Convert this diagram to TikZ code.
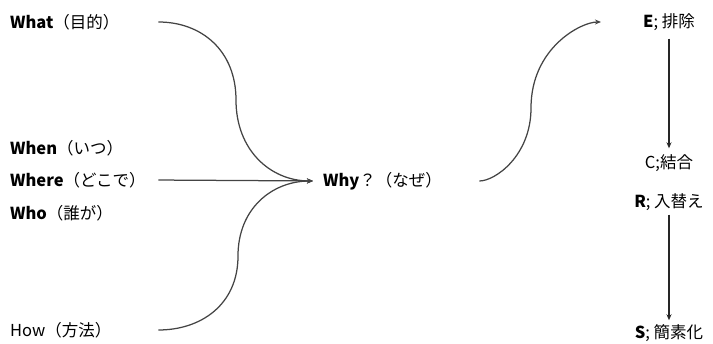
\documentclass[tikz,border=0pt]{standalone}
\usepackage{fontspec}
\setmainfont{Noto Sans CJK JP}
\usepackage{tikz}
\usetikzlibrary{arrows.meta, positioning}
\definecolor{linegray}{HTML}{444444}

\begin{document}
\begin{tikzpicture}[
    x=1pt, y=-1pt,
    item/.style={anchor=west, inner sep=2pt, text width=140pt, align=left, font=\fontsize{16.5}{18}\selectfont},
    erk/.style={anchor=center, inner sep=2pt, font=\fontsize{16.5}{18}\selectfont},
    arr/.style={-{Stealth[length=6pt, width=5pt]}, line width=1.25pt, color=linegray},
    down/.style={-{Stealth[length=6pt, width=5pt]}, line width=1.25pt, color=black!85},
]
    \useasboundingbox (0,0) rectangle (713,344);

    % 5W1H
    \node[item] (what) at (8,22) {\textbf{What}（目的）};
    \node[item] (when) at (8,148) {\textbf{When}（いつ）};
    \node[item] (where) at (8,180) {\textbf{Where}（どこで）};
    \node[item] (who) at (8,213) {\textbf{Who}（誰が）};
    \node[item] (how) at (8,330) {How（方法）};
    \node[item, text width=122pt] (why) at (321,181) {\textbf{Why}？（なぜ）};

    % ECRS
    \node[erk] (elim) at (669,22) {\textbf{E}; 排除};
    \node[erk] (comb) at (669,163) {C;結合};
    \node[erk] (rearr) at (669,202) {\textbf{R}; 入替え};
    \node[erk] (simp) at (669,333) {\textbf{S}; 簡素化};

    % bends of the curves
    \coordinate (whatbend) at (236,100);
    \coordinate (howbend) at (238,256);
    \coordinate (whybend) at (531,108);

    \draw[arr, shorten <=6pt, shorten >=8pt] (what.east) to[out=0, in=90, looseness=1.1] (whatbend)
        to[out=-90, in=180, looseness=1.1] (why.west);
    \draw[arr, shorten <=6pt, shorten >=8pt] (where.east) -- (why.west);
    \draw[arr, shorten <=6pt, shorten >=8pt] (how.east) to[out=0, in=-90, looseness=1.1] (howbend)
        to[out=90, in=180, looseness=1.1] (why.west);
    \draw[arr, shorten <=32pt, shorten >=40pt] (why.east) to[out=0, in=-90, looseness=1.1] (whybend)
        to[out=90, in=180, looseness=1.1] (elim.west);

    \draw[down, shorten <=6pt, shorten >=4pt] (elim) -- (comb);
    \draw[down, shorten <=2pt, shorten >=2pt] (rearr) -- (simp);
\end{tikzpicture}
\end{document}
